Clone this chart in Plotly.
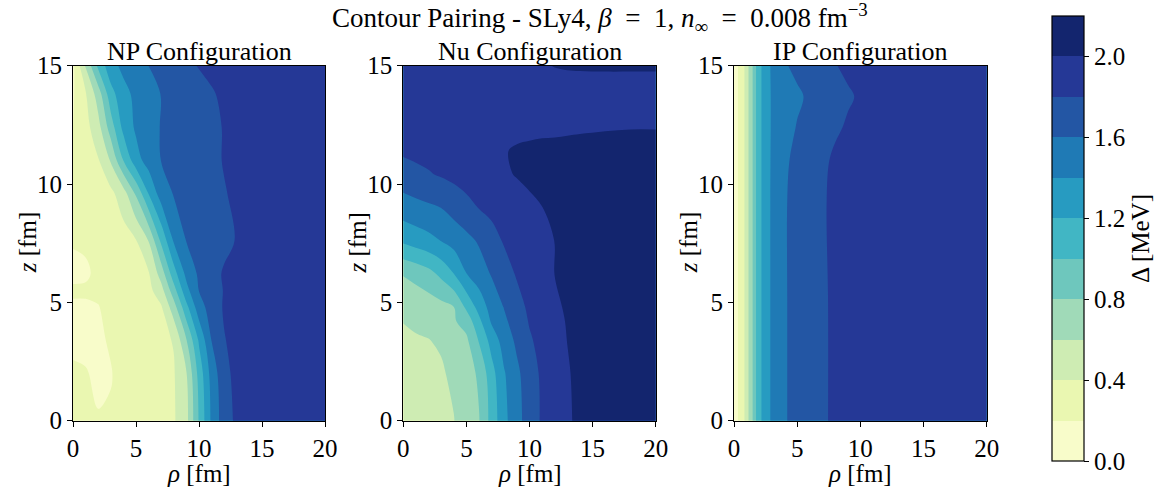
import plotly.graph_objects as go
import numpy as np

# ---------------- data ----------------
levels_start, levels_end, levels_step = 0.0, 2.2, 0.2
cbar_ticks = [0.0, 0.4, 0.8, 1.2, 1.6, 2.0]

np_rho = [0, 1, 2, 3, 4, 5, 6, 7, 8, 9, 10, 11, 12, 13, 14, 16, 18, 20]
np_z = [0, 2, 3.4, 4.8, 5.5, 6.2, 7.6, 9.6, 11, 12.4, 13.8, 15]
np_delta = [
    [0.215, 0.21, 0.205, 0.21, 0.24, 0.28, 0.31, 0.34, 0.38, 0.54, 1.02, 1.44, 1.71, 1.84, 1.86, 1.89, 1.9, 1.9],
    [0.21, 0.205, 0.185, 0.195, 0.235, 0.27, 0.3, 0.34, 0.385, 0.59, 1.074, 1.48, 1.74, 1.86, 1.87, 1.89, 1.9, 1.9],
    [0.185, 0.18, 0.185, 0.21, 0.25, 0.29, 0.32, 0.36, 0.41, 0.79, 1.226, 1.605, 1.79, 1.86, 1.88, 1.9, 1.9, 1.9],
    [0.19, 0.19, 0.196, 0.23, 0.26, 0.29, 0.33, 0.38, 0.713, 1.143, 1.514, 1.69, 1.82, 1.86, 1.88, 1.9, 1.9, 1.9],
    [0.21, 0.21, 0.22, 0.24, 0.27, 0.3, 0.34, 0.523, 0.918, 1.335, 1.605, 1.716, 1.81, 1.86, 1.88, 1.9, 1.9, 1.9],
    [0.185, 0.19, 0.215, 0.25, 0.28, 0.32, 0.38, 0.687, 1.113, 1.452, 1.632, 1.733, 1.82, 1.86, 1.88, 1.9, 1.9, 1.9],
    [0.205, 0.21, 0.24, 0.27, 0.31, 0.39, 0.605, 1.04, 1.42, 1.605, 1.65, 1.7, 1.755, 1.81, 1.85, 1.88, 1.9, 1.9],
    [0.22, 0.25, 0.29, 0.35, 0.515, 0.83, 1.208, 1.5, 1.613, 1.64, 1.68, 1.73, 1.79, 1.83, 1.86, 1.89, 1.9, 1.9],
    [0.22, 0.3, 0.385, 0.62, 1.005, 1.32, 1.486, 1.604, 1.63, 1.67, 1.71, 1.76, 1.81, 1.84, 1.87, 1.89, 1.9, 1.9],
    [0.2, 0.33, 0.53, 0.9, 1.258, 1.432, 1.525, 1.61, 1.64, 1.68, 1.72, 1.76, 1.81, 1.84, 1.87, 1.89, 1.9, 1.9],
    [0.18, 0.38, 0.696, 1.125, 1.334, 1.449, 1.528, 1.605, 1.64, 1.68, 1.73, 1.785, 1.83, 1.85, 1.87, 1.89, 1.9, 1.9],
    [0.15, 0.625, 1.045, 1.328, 1.45, 1.526, 1.601, 1.65, 1.7, 1.76, 1.81, 1.84, 1.86, 1.87, 1.88, 1.89, 1.9, 1.9],
]

nu_rho = [0, 1, 2, 3, 4, 5, 6, 7, 8, 9, 10, 11, 12, 13, 14, 16, 18, 20]
nu_z = [0, 2, 3.4, 4.2, 4.8, 6.2, 7.6, 9, 10.4, 11.4, 12.4, 13.5, 14.5, 15]
nu_delta = [
    [0.52, 0.53, 0.545, 0.565, 0.595, 0.69, 0.79, 1.076, 1.349, 1.533, 1.696, 1.826, 1.9, 1.975, 2.04, 2.08, 2.1, 2.1],
    [0.54, 0.55, 0.565, 0.585, 0.627, 0.718, 0.831, 1.125, 1.385, 1.558, 1.714, 1.833, 1.909, 1.985, 2.045, 2.08, 2.1, 2.1],
    [0.592, 0.594, 0.597, 0.615, 0.699, 0.765, 1.017, 1.279, 1.491, 1.639, 1.777, 1.86, 1.932, 2.003, 2.05, 2.08, 2.1, 2.1],
    [0.601, 0.61, 0.63, 0.67, 0.78, 0.877, 1.15, 1.427, 1.563, 1.695, 1.814, 1.886, 1.957, 2.01, 2.05, 2.08, 2.1, 2.1],
    [0.664, 0.675, 0.7, 0.74, 0.797, 1.04, 1.274, 1.483, 1.609, 1.735, 1.834, 1.903, 1.972, 2.02, 2.05, 2.08, 2.1, 2.1],
    [0.81, 0.86, 0.93, 1.046, 1.198, 1.396, 1.506, 1.614, 1.722, 1.817, 1.878, 1.939, 2.002, 2.03, 2.05, 2.08, 2.1, 2.1],
    [1.235, 1.29, 1.34, 1.404, 1.474, 1.544, 1.622, 1.733, 1.818, 1.864, 1.909, 1.955, 2.002, 2.04, 2.06, 2.08, 2.1, 2.1],
    [1.507, 1.54, 1.57, 1.602, 1.672, 1.742, 1.807, 1.845, 1.883, 1.922, 1.96, 1.998, 2.04, 2.06, 2.07, 2.08, 2.09, 2.1],
    [1.714, 1.75, 1.785, 1.818, 1.85, 1.882, 1.913, 1.945, 1.977, 2.01, 2.04, 2.05, 2.06, 2.06, 2.065, 2.07, 2.08, 2.08],
    [1.83, 1.85, 1.86, 1.87, 1.88, 1.9, 1.92, 1.95, 1.99, 2.02, 2.03, 2.04, 2.04, 2.045, 2.05, 2.05, 2.05, 2.05],
    [1.86, 1.87, 1.875, 1.88, 1.885, 1.89, 1.9, 1.91, 1.93, 1.95, 1.96, 1.965, 1.97, 1.975, 1.98, 1.99, 1.995, 1.995],
    [1.88, 1.885, 1.89, 1.89, 1.895, 1.9, 1.9, 1.905, 1.91, 1.915, 1.92, 1.925, 1.93, 1.935, 1.94, 1.945, 1.95, 1.95],
    [1.9, 1.9, 1.905, 1.91, 1.91, 1.915, 1.92, 1.925, 1.93, 1.94, 1.95, 1.96, 1.97, 1.975, 1.975, 1.98, 1.98, 1.98],
    [1.92, 1.92, 1.925, 1.93, 1.93, 1.935, 1.94, 1.95, 1.955, 1.96, 1.97, 1.985, 2.005, 2.015, 2.02, 2.02, 2.02, 2.02],
]

ip_rho = [0, 0.25, 0.5, 0.75, 1, 1.25, 1.5, 1.75, 2, 2.5, 3, 4, 5, 6, 7, 8, 9, 10, 12, 14, 16, 18, 20]
ip_z = [0, 5, 9.3, 11, 12.4, 13.7, 15]
ip_delta = [
    [0.12, 0.179, 0.26, 0.355, 0.5, 0.669, 0.815, 1.005, 1.14, 1.313, 1.429, 1.585, 1.655, 1.71, 1.78, 1.825, 1.85, 1.87, 1.89, 1.9, 1.9, 1.9, 1.9],
    [0.12, 0.179, 0.26, 0.355, 0.5, 0.669, 0.815, 1.005, 1.14, 1.313, 1.429, 1.585, 1.655, 1.71, 1.78, 1.825, 1.85, 1.87, 1.89, 1.9, 1.9, 1.9, 1.9],
    [0.12, 0.179, 0.26, 0.355, 0.5, 0.669, 0.815, 1.005, 1.14, 1.313, 1.429, 1.585, 1.655, 1.715, 1.785, 1.83, 1.85, 1.87, 1.89, 1.9, 1.9, 1.9, 1.9],
    [0.12, 0.179, 0.26, 0.355, 0.5, 0.669, 0.815, 1.005, 1.14, 1.313, 1.425, 1.575, 1.639, 1.704, 1.77, 1.825, 1.85, 1.87, 1.89, 1.9, 1.9, 1.9, 1.9],
    [0.12, 0.179, 0.26, 0.355, 0.5, 0.669, 0.815, 1.005, 1.14, 1.313, 1.42, 1.52, 1.611, 1.667, 1.722, 1.778, 1.815, 1.84, 1.87, 1.885, 1.89, 1.9, 1.9],
    [0.12, 0.179, 0.26, 0.355, 0.5, 0.669, 0.815, 1.005, 1.14, 1.313, 1.42, 1.492, 1.569, 1.631, 1.682, 1.733, 1.784, 1.815, 1.86, 1.88, 1.89, 1.9, 1.9],
    [0.12, 0.179, 0.26, 0.355, 0.5, 0.669, 0.815, 1.005, 1.14, 1.313, 1.43, 1.582, 1.644, 1.694, 1.744, 1.794, 1.825, 1.85, 1.875, 1.885, 1.89, 1.9, 1.9],
]

panel_titles = ["NP Configuration", "Nu Configuration", "IP Configuration"]
x_label = "<i>ρ</i> [fm]"
y_label = "<i>z</i> [fm]"
EN = "\u2002"
suptitle = ("Contour Pairing - SLy4, <i>β</i>" + EN + "=" + EN + "1, <i>n</i><sub>∞</sub>"
            + EN + "=" + EN + "0.008 fm<sup>−3</sup>")

# ---------------- style ----------------
W, H = 1174, 490
FONT = "Liberation Serif, DejaVu Serif, serif"
FS = 25

# YlGnBu (ColorBrewer anchors) sampled at band midpoints like matplotlib contourf
anchors = np.array([(255, 255, 217), (237, 248, 177), (199, 233, 180), (127, 205, 187),
                    (65, 182, 196), (29, 145, 192), (34, 94, 168), (37, 52, 148), (8, 29, 88)], float)
pos = np.linspace(0, 1, len(anchors))
nb = int(round((levels_end - levels_start) / levels_step))
band_cols = []
for k in range(nb):
    t = (2 * k + 1) / (2 * nb)
    c = [np.interp(t, pos, anchors[:, j]) for j in range(3)]
    band_cols.append("rgb(%d,%d,%d)" % tuple(int(round(v)) for v in c))

# stepped colorscale for the contour fills (plotly maps band k centre to s=(k+1)/(nb+1))
ncs = nb + 1
cscale = []
for k in range(nb):
    lo = 0.0 if k == 0 else (k + 0.5) / ncs
    hi = 1.0 if k == nb - 1 else (k + 1.5) / ncs
    cscale.append([lo, band_cols[k]])
    cscale.append([hi, band_cols[k]])

# stepped colorscale for the colour bar spanning exactly [start, end]
cbar_scale = []
for k in range(nb):
    cbar_scale.append([k / nb, band_cols[k]])
    cbar_scale.append([(k + 1) / nb, band_cols[k]])

px_panels = [(73, 325), (403.3, 655.7), (734, 986.7)]
y_top_px, y_bot_px = 65.7, 420.7
ydom = [(H - y_bot_px) / H, (H - y_top_px) / H]

fig = go.Figure()
datasets = [(np_rho, np_z, np_delta), (nu_rho, nu_z, nu_delta), (ip_rho, ip_z, ip_delta)]
for i, (rr, zz, dd) in enumerate(datasets):
    sfx = "" if i == 0 else str(i + 1)
    fig.add_trace(go.Contour(
        x=rr, y=zz, z=dd,
        xaxis="x" + sfx, yaxis="y" + sfx,
        colorscale=cscale,
        autocontour=False,
        contours=dict(start=levels_start, end=levels_end, size=levels_step, coloring="fill"),
        line=dict(width=0, smoothing=1),
        showscale=False,
        hoverinfo="skip",
    ))

# colour bar carrier (no visible marks)
fig.add_trace(go.Scatter(
    x=[None], y=[None], mode="markers", xaxis="x3", yaxis="y3", showlegend=False,
    hoverinfo="skip",
    marker=dict(color=[levels_start], cmin=levels_start, cmax=levels_end,
                colorscale=cbar_scale, showscale=True,
                colorbar=dict(
                    x=1051.7 / W, xanchor="left", xpad=0,
                    y=(H - 461) / H, yanchor="bottom", ypad=0,
                    len=(461 - 15.7) / H, lenmode="fraction",
                    thickness=32.3, thicknessmode="pixels",
                    outlinewidth=1.2, outlinecolor="black",
                    ticks="outside", ticklen=5, tickwidth=1.2, tickcolor="black",
                    tickvals=cbar_ticks, ticktext=["%.1f" % v for v in cbar_ticks],
                    tickfont=dict(family=FONT, size=FS, color="black"),
                    title=dict(text="Δ [MeV]", side="right",
                               font=dict(family=FONT, size=FS, color="black")),
                )),
))

axis_common = dict(showgrid=False, zeroline=False, showline=True, mirror=True,
                   linecolor="black", linewidth=1.2, ticks="outside", ticklen=5,
                   tickwidth=1.2, tickcolor="black", automargin=False,
                   tickfont=dict(family=FONT, size=FS, color="black"))
layout = dict(
    width=W, height=H, margin=dict(l=0, r=0, t=0, b=0, autoexpand=False),
    paper_bgcolor="white", plot_bgcolor="white",
    font=dict(family=FONT, size=FS, color="black"),
    showlegend=False,
)
annotations = []
txt_font = dict(family=FONT, size=FS, color="black")
for i, (x0, x1) in enumerate(px_panels):
    sfx = "" if i == 0 else str(i + 1)
    layout["xaxis" + sfx] = dict(axis_common, domain=[x0 / W, x1 / W], range=[0, 20],
                                 tickvals=[0, 5, 10, 15, 20], anchor="y" + sfx)
    layout["yaxis" + sfx] = dict(axis_common, domain=ydom, range=[0, 15],
                                 tickvals=[0, 5, 10, 15], anchor="x" + sfx)
    # panel title
    annotations.append(dict(text=panel_titles[i], xref="paper", yref="paper",
                            x=(x0 + x1) / 2 / W, y=(H - y_top_px + 1) / H, yshift=-3,
                            xanchor="center", yanchor="bottom", showarrow=False,
                            font=dict(family=FONT, size=26, color="black")))
    # axis titles
    annotations.append(dict(text=x_label, xref="paper", yref="paper",
                            x=(x0 + x1) / 2 / W, y=(H - 459) / H, borderpad=0,
                            xanchor="center", yanchor="top", showarrow=False,
                            font=txt_font))
    annotations.append(dict(text=y_label, xref="paper", yref="paper",
                            x=(x0 - 46) / W, y=(H - (y_top_px + y_bot_px) / 2) / H,
                            xanchor="center", yanchor="middle", textangle=-90,
                            showarrow=False, font=txt_font))
annotations.append(dict(text=suptitle, xref="paper", yref="paper",
                        x=600 / W, y=1.0, xanchor="center", yanchor="top", yshift=3,
                        showarrow=False, font=dict(family=FONT, size=27, color="black")))
layout["annotations"] = annotations
fig.update_layout(**layout)
fig.write_html("out.html")
